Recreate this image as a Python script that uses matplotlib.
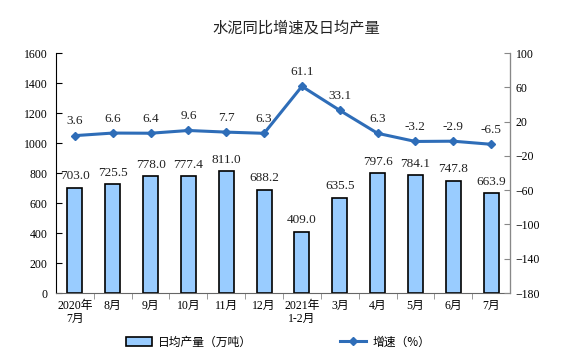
import numpy as np
import matplotlib.pyplot as plt
from matplotlib.patches import Patch
from matplotlib.lines import Line2D

plt.rcParams['font.family'] = ['Liberation Serif', 'Noto Sans CJK SC']

# 数据
months = ["2020年\n7月", "8月", "9月", "10月", "11月", "12月",
          "2021年\n1-2月", "3月", "4月", "5月", "6月", "7月"]
output = [703.0, 725.5, 778.0, 777.4, 811.0, 688.2,
          409.0, 635.5, 797.6, 784.1, 747.8, 663.9]
growth = [3.6, 6.6, 6.4, 9.6, 7.7, 6.3,
          61.1, 33.1, 6.3, -3.2, -2.9, -6.5]

bar_color = "#99CCFF"
line_color = "#2E6DB8"

fig = plt.figure(figsize=(5.76, 3.56), dpi=100)
ax = fig.add_axes([56/576, 1-293/356, 454/576, 240/356])
ax2 = ax.twinx()

x = np.arange(len(months))
ax.bar(x, output, width=0.4, color=bar_color, edgecolor="black", linewidth=1.2, zorder=2)
for xi, v in zip(x, output):
    ax.annotate(f"{v:.1f}", (xi, v), xytext=(0, 4), textcoords="offset points",
                ha="center", va="bottom", fontsize=9.5, color="#222222")

ax2.plot(x, growth, color=line_color, lw=2.2, marker="D", ms=4, zorder=3)
for xi, v in zip(x, growth):
    ax2.annotate(f"{v:.1f}", (xi, v), xytext=(0, 6), textcoords="offset points",
                 ha="center", va="bottom", fontsize=9.5, color="#222222")

# 坐标轴
ax.set_xlim(-0.5, len(months) - 0.5)
ax.set_ylim(0, 1600)
ax.set_yticks(np.arange(0, 1601, 200))
ax2.set_ylim(-180, 100)
ax2.set_yticks(np.arange(-180, 101, 40))

ax.set_xticks(x)
ax.set_xticklabels(months, fontsize=8.5, linespacing=1.1)
ax.set_xticks(np.arange(0.5, len(months) - 1, 1), minor=True)
ax.tick_params(axis="x", which="major", length=0, pad=5)
ax.tick_params(axis="x", which="minor", length=4, direction="out", color="#888888")
ax.tick_params(axis="y", direction="in", length=4, labelsize=8.5, pad=6)
ax2.tick_params(axis="y", direction="in", length=4, labelsize=8.5, color="#888888", pad=4)

ax.spines["top"].set_visible(False)
ax2.spines["top"].set_visible(False)
ax.spines["left"].set_color("black")
ax.spines["bottom"].set_color("#666666")
ax2.spines["right"].set_color("#888888")
ax2.spines["left"].set_visible(False)
ax2.spines["bottom"].set_visible(False)

fig.text(296/576, 1-28/356, "水泥同比增速及日均产量", ha="center", va="center",
         fontsize=11, family=["Noto Sans CJK SC"], color="#222222")

handles = [Patch(facecolor=bar_color, edgecolor="black", linewidth=1.2),
           Line2D([0], [0], color=line_color, lw=2.2, marker="D", ms=4)]
fig.legend(handles, ["日均产量（万吨）", "增速（%）"], loc="center",
           bbox_to_anchor=(278/576, 1-342/356), ncol=2, frameon=False,
           columnspacing=7.5, handlelength=2.2, handletextpad=0.5,
           prop={"family": ["Noto Sans CJK SC"], "size": 8.5})

fig.savefig("out.png", dpi=100)
